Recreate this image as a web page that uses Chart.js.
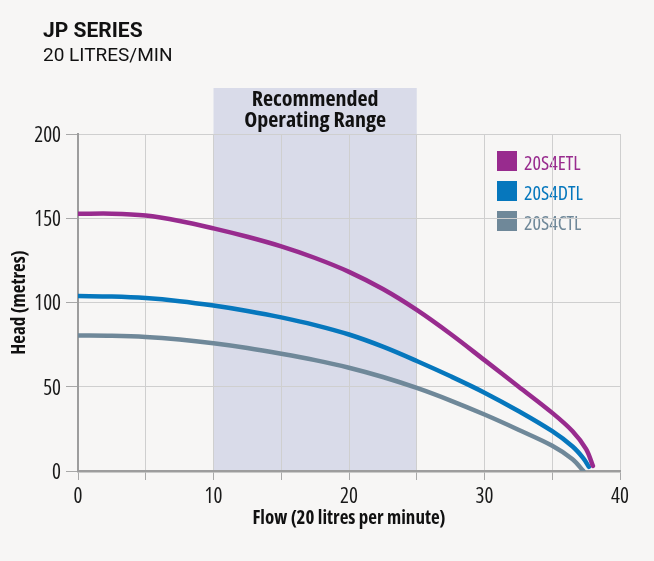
<!DOCTYPE html>
<html>
<head>
<meta charset="utf-8">
<script src="https://cdn.jsdelivr.net/npm/chart.js@4.4.0/dist/chart.umd.min.js"></script>
<style>
    html, body { margin: 0; padding: 0; background: #f7f6f5; }
    #wrap { width: 654px; height: 561px; }
</style>
</head>
<body>
<div id="wrap"><canvas id="pump" width="654" height="561"></canvas></div>
<script>
// pump curves
const seriesNames = ['20S4ETL', '20S4DTL', '20S4CTL'];
const seriesColors = ['#982b8e', '#0677bd', '#6f8899'];

const flowEtl = [0, 2.5, 5, 7.5, 10, 12.5, 15, 17.5, 20, 22.5, 25, 27.5, 30, 32.5, 35, 36.5, 37.5, 38];
const headEtl = [152.6, 152.7, 151.6, 148.4, 144, 139, 133.3, 126.4, 118.2, 108, 95.6, 81.3, 65.8, 50.2, 34.5, 23.6, 13, 3];

const flowDtl = [0, 2.5, 5, 7.5, 10, 12.5, 15, 17.5, 20, 22.5, 25, 27.5, 30, 32.5, 35, 36.5, 37.3, 37.7];
const headDtl = [103.8, 103.5, 102.6, 100.8, 98.2, 95, 91.2, 86.6, 81, 73.8, 65.3, 56.2, 46.5, 35.6, 23.6, 14.5, 7.5, 2.5];

const flowCtl = [0, 2.5, 5, 7.5, 10, 12.5, 15, 17.5, 20, 22.5, 25, 27.5, 30, 32.5, 35, 36.5, 37.3];
const headCtl = [80.4, 80.2, 79.5, 78, 75.8, 73, 69.6, 65.8, 61.3, 55.8, 49.3, 41.8, 33.5, 24.5, 15, 7, 0];

const xTicks = [0, 10, 20, 30, 40];
const yTicks = [0, 50, 100, 150, 200];

const bandRange = [10, 25];
const bandLabel = ['Recommended', 'Operating Range'];

const cond = "'Open Sans', sans-serif";

function pts(flow, head) {
    return flow.map((f, i) => ({ x: f, y: head[i] }));
}

const curves = [pts(flowEtl, headEtl), pts(flowDtl, headDtl), pts(flowCtl, headCtl)];

const decor = {
    id: 'decor',
    beforeDraw(chart) {
        const { ctx, chartArea, scales: { x } } = chart;
        const l = x.getPixelForValue(bandRange[0]);
        const r = x.getPixelForValue(bandRange[1]);
        const top = chartArea.top - 46;
        ctx.save();
        // shaded range
        ctx.fillStyle = '#d9dbe9';
        ctx.fillRect(l, top, r - l, chartArea.bottom - top);
        ctx.fillStyle = '#111';
        ctx.textAlign = 'center';
        ctx.font = "bold condensed 22px " + cond;
        ctx.fillText(bandLabel[0], (l + r) / 2, top + 18);
        ctx.fillText(bandLabel[1], (l + r) / 2, top + 39);

        // heading
        ctx.textAlign = 'left';
        ctx.fillStyle = '#111';
        ctx.font = 'bold 21px Roboto';
        ctx.fillText('JP SERIES', 43, 37);
        ctx.font = '19px Roboto';
        ctx.fillText('20 LITRES/MIN', 43, 61);

        // legend (under the grid, like the original)
        ctx.font = "condensed 20px " + cond;
        chart.data.datasets.forEach((ds, i) => {
            const y = chartArea.top + 17 + i * 30;
            ctx.fillStyle = ds.borderColor;
            ctx.fillRect(497, y, 20, 20);
            ctx.fillText(ds.label, 524, y + 19);
        });
        ctx.restore();
    }
};

new Chart(document.getElementById('pump'), {
    type: 'line',
    data: {
        datasets: seriesNames.map((name, i) => ({
            label: name,
            data: curves[i],
            borderColor: seriesColors[i],
            borderWidth: 4.5,
            borderCapStyle: 'round',
            pointRadius: 0,
            tension: 0.35,
            fill: false
        }))
    },
    plugins: [decor],
    options: {
        responsive: false,
        animation: false,
        layout: { padding: { top: 134, right: 34, left: 0, bottom: 0 } },
        plugins: {
            legend: { display: false },
            tooltip: { enabled: false }
        },
        scales: {
            x: {
                type: 'linear',
                min: 0,
                max: 40,
                ticks: {
                    stepSize: 5,
                    autoSkip: false,
                    maxRotation: 0,
                    padding: 4,
                    color: '#1a1a1a',
                    font: { family: cond, size: 21, weight: 'condensed' },
                    callback: v => xTicks.includes(v) ? v : ''
                },
                grid: { color: '#cfcfcf', tickColor: '#a8a8a8', tickLength: 9 },
                border: { color: '#9d9d9d', width: 2.5 },
                title: {
                    display: true,
                    text: 'Flow (20 litres per minute)',
                    color: '#111',
                    font: { family: cond, size: 19, weight: 'bold condensed' },
                    padding: { top: 0, bottom: 31 }
                },
                afterFit: s => { s.height = 90; }
            },
            y: {
                min: 0,
                max: 200,
                ticks: {
                    stepSize: 50,
                    padding: 5,
                    labelOffset: 2,
                    color: '#1a1a1a',
                    font: { family: cond, size: 21, weight: 'condensed' },
                    callback: v => yTicks.includes(v) ? v : ''
                },
                grid: { color: '#cfcfcf', tickColor: '#a8a8a8', tickLength: 12 },
                border: { color: '#9d9d9d', width: 2 },
                title: {
                    display: true,
                    text: 'Head (metres)',
                    color: '#111',
                    font: { family: cond, size: 19, weight: 'bold condensed' },
                    padding: { top: 8, bottom: 0 }
                },
                afterFit: s => { s.width = 78; }
            }
        }
    }
});
</script>
</body>
</html>
